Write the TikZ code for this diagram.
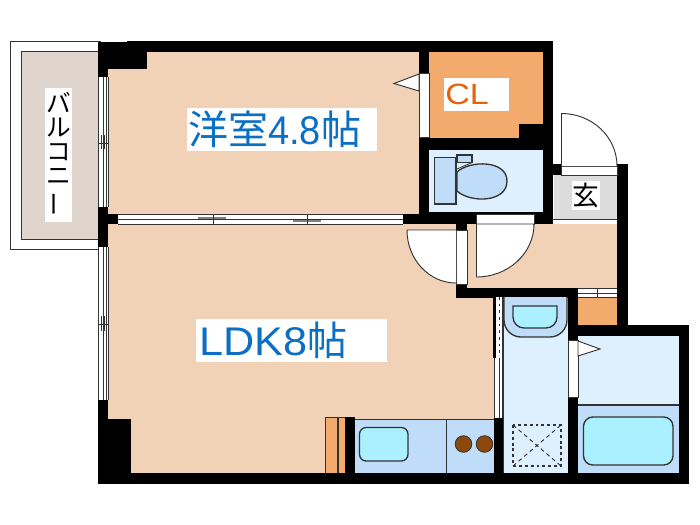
\documentclass[tikz,border=0pt]{standalone}
\usepackage{fontspec}
\setmainfont{Liberation Sans}
\newfontfamily\cjk{Noto Sans CJK JP}
\definecolor{roomc}{HTML}{F2D2B6}
\definecolor{orangec}{HTML}{F2AB6D}
\definecolor{balc}{HTML}{DFD5CC}
\definecolor{palec}{HTML}{DEF0FE}
\definecolor{midc}{HTML}{BFDDF9}
\definecolor{cyanc}{HTML}{AAF0FF}
\definecolor{greyc}{HTML}{DCDCDC}
\definecolor{brownc}{HTML}{8B4A0C}
\definecolor{bluetext}{HTML}{0B6FC5}
\definecolor{orangetext}{HTML}{E8610A}
\definecolor{linec}{HTML}{333333}
\tikzset{
  wall/.style={fill=black},
  thin line/.style={draw=linec,line width=0.6pt},
  fixture/.style={draw=linec,line width=1pt},
  win/.style={fill=white},
  winline/.style={draw=linec,line width=0.5pt},
  winshade/.style={draw=gray,line width=0.8pt},
  doorleaf/.style={fill=white,draw=linec,line width=0.7pt},
  labelbox/.style={fill=white,inner sep=0pt,outer sep=0pt},
}
\begin{document}
\begin{tikzpicture}[x=0.75pt,y=-0.75pt]
\useasboundingbox (0,0) rectangle (700,525);
% balcony
\draw[draw=linec,line width=0.7pt,fill=white] (10.5,41) rectangle (100,249);
\fill[balc] (21,51) rectangle (98,239);
\draw[draw=linec,line width=0.7pt] (98,51) -- (21,51) -- (21,239) -- (98,239);
% floors
\fill[roomc] (108,52) rectangle (420,215);
\fill[roomc] (108,223) rectangle (457,473);
\fill[roomc] (457,290) rectangle (494,473);
\fill[roomc] (467,224) rectangle (617,289);
\draw[thin line] (553,219) -- (617,219);
\fill[greyc] (554,175) rectangle (617,219);
\fill[orangec] (429,52) rectangle (543,138);
\fill[palec] (429,150) rectangle (543,212);
\fill[palec] (504,297) rectangle (568,473);
\fill[palec] (578,336) rectangle (679,405);
\fill[midc] (578,405) rectangle (679,473);
\fill[orangec] (578,298) rectangle (617,325);
\fill[midc] (355,419) rectangle (494,473);
\fill[orangec] (325,417) rectangle (345,473);
\draw[linec,line width=0.5pt] (325,473) -- (325,417) -- (345,417);
\fill[roomc!60!white] (337,417) rectangle (338.5,473);
\draw[linec,line width=0.3pt] (337,417) -- (337,473) (338.5,417) -- (338.5,473);
% walls
\fill[wall] (98,42) rectangle (127,69);
\fill[wall] (127,41) rectangle (553,52);
\fill[wall] (127,52) rectangle (147,69);
\fill[wall] (98,69) rectangle (108,77);
\fill[wall] (98,207) rectangle (108,247);
\fill[wall] (108,214) rectangle (118,224);
\fill[wall] (98,400) rectangle (108,484);
\fill[wall] (108,419) rectangle (131,473);
\fill[wall] (98,473) rectangle (689,484);
\fill[wall] (419,41) rectangle (429,214);
\fill[wall] (519,124) rectangle (543,138);
\fill[wall] (429,138) rectangle (553,150);
\fill[wall] (543,41) rectangle (553,224);
\fill[wall] (429,212) rectangle (553,214);
\fill[wall] (403,214) rectangle (476,224);
\fill[wall] (534,214) rectangle (553,224);
\fill[wall] (456,224) rectangle (467,230);
\fill[wall] (456,284) rectangle (467,298);
\fill[wall] (456,288) rectangle (578,298);
\fill[wall] (553,164) rectangle (561,175);
\fill[wall] (617,164) rectangle (628,336);
\fill[wall] (568,288) rectangle (578,340);
\fill[wall] (568,397) rectangle (578,484);
\fill[wall] (568,325) rectangle (689,336);
\fill[wall] (679,325) rectangle (689,484);
\fill[wall] (494,418) rectangle (504,473);
\fill[wall] (345,417) rectangle (355,473);
\fill[wall] (493,297) rectangle (495.5,358);
% left windows
\fill[win] (98,77) rectangle (108,207);
\fill[win] (98,247) rectangle (108,400);
\foreach \xx in {98.5,103.5,106,108}{
  \draw[winline] (\xx,77) -- (\xx,207);
  \draw[winline] (\xx,247) -- (\xx,400);
}
\draw[winline] (98,143) -- (108,143) (101,135) -- (101,149) (104.5,135) -- (104.5,149);
\draw[winline] (98,324) -- (108,324) (101,316) -- (101,331) (104.5,316) -- (104.5,331);
% horizontal window
\fill[win] (118,214) rectangle (403,224);
\draw[winline] (118,214.5) -- (403,214.5) (118,224) -- (403,224) (118,219.2) -- (403,219.2);
\draw[winshade] (198,218) -- (226,218) (293,221) -- (321,221);
\draw[winline] (213,214) -- (213,224) (307,214) -- (307,224);
% cl door opening
\fill[win] (419,73) rectangle (429,137);
\draw[winline] (419,73) rectangle (429,137);
\draw[doorleaf] (419,74) -- (394,83.5) -- (419,91) -- cycle;
% toilet
\draw[fixture,fill=midc] (434.5,157.5) rectangle (456,204);
\draw[fixture,fill=midc] (457,155) rectangle (472,162.5);
\draw[fixture,fill=midc] (457,172) .. controls (470,160) and (507,160) .. (507,181) .. controls (507,203) and (470,203) .. (457,191) -- cycle;
\draw[thin line] (457,169) -- (472,162.5);
% entrance door
\fill[win] (561,166) rectangle (617,175);
\draw[winline] (561,166) rectangle (617,175);
\draw[doorleaf] (561.5,166) -- (561.5,113.5) arc[start angle=90,end angle=0,x radius=55.5,y radius=-52.5];
\draw[winline] (561,175) -- (617,175);
% LDK door
\fill[win] (456,230) rectangle (467,284);
\draw[winline] (456,230) rectangle (467,284);
\draw[doorleaf] (456,283) arc[start angle=270,end angle=180,x radius=49,y radius=-53] -- (456,230);
% hall door
\fill[win] (476,214) rectangle (534,224);
\draw[winline] (476,214) rectangle (534,224);
\draw[doorleaf] (476.5,224) -- (476.5,277) arc[start angle=270,end angle=360,x radius=57.5,y radius=-53] -- cycle;
% small window
\fill[win] (578,288) rectangle (617,298);
\draw[winline] (578,288.5) -- (617,288.5) (578,293) -- (617,293) (578,297.5) -- (617,297.5) (597,288) -- (597,298);
% wash room door
\fill[win] (495.5,297) rectangle (503,358);
\draw[draw=linec,line width=1.2pt,dash pattern=on 2pt off 3pt] (499.5,297) -- (499.5,356);
\draw[winline] (502,297) -- (502,418);
\fill[win] (494,358) rectangle (501.5,418);
\draw[winline] (494,358) -- (494,418) (499.5,358) -- (499.5,418);
\draw[winline] (503.7,297) -- (503.7,473);
% basin
\draw[fixture,fill=midc] (504,297) -- (504,320) arc[start angle=180,end angle=90,radius=17] -- (550,337) arc[start angle=90,end angle=0,radius=17] -- (567,297);
\draw[fixture,fill=cyanc] (513,306) -- (557,306) -- (557,317) arc[start angle=0,end angle=90,radius=11] -- (524,328) arc[start angle=90,end angle=180,radius=11] -- cycle;
% floor drain
\draw[draw=linec,line width=1pt,dash pattern=on 2.2pt off 2.2pt] (513,425) rectangle (561,466);
\draw[draw=linec,line width=0.7pt,dash pattern=on 3pt off 2.5pt] (513,425) -- (561,466) (513,466) -- (561,425);
% kitchen
\draw[thin line] (446,419) -- (446,473);
\draw[thin line] (355,419) -- (494,419);
\draw[fixture,fill=cyanc,rounded corners=5pt] (359.5,427.5) rectangle (408,461);
\draw[thin line,fill=brownc] (463.5,444) circle (8.3);
\draw[thin line,fill=brownc] (484.5,444) circle (8.3);
% bath
\draw[fixture] (578,405) -- (679,405);
\draw[fixture,fill=cyanc,rounded corners=7pt] (583.5,417) rectangle (673,465);
\fill[win] (568,340) rectangle (578,397);
\draw[winline] (568,340) rectangle (578,397);
\draw[doorleaf] (578,341) -- (600,349) -- (578,356) -- cycle;
% labels
\node[labelbox,minimum width=190pt*0.75,minimum height=43pt*0.75] (roomA) at (282,129.5) {};
\node[anchor=west,text=bluetext,inner sep=0pt,font=\fontsize{30pt}{32pt}\selectfont] (roomAt) at (188,129.5) {{\cjk 洋室}\scalebox{0.95}[1]{4.8}{\cjk 帖}};
\node[labelbox,minimum width=191pt*0.75,minimum height=43pt*0.75] (roomB) at (291.5,340.5) {};
\node[anchor=west,text=bluetext,inner sep=0pt,font=\fontsize{30pt}{32pt}\selectfont] (roomBt) at (199,340.5) {\scalebox{1.08}[1]{LDK8}{\cjk 帖}};
\node[labelbox,minimum width=65pt*0.75,minimum height=33pt*0.75] (cl) at (476.5,94.5) {};
\node[anchor=west,text=orangetext,inner sep=0pt,font=\fontsize{22pt}{24pt}\selectfont] (clt) at (445,94.5) {\scalebox{1.16}[1]{CL}};
\node[labelbox,minimum width=28pt*0.75,minimum height=29pt*0.75] (gen) at (586,195) {};
\node[text=black,inner sep=0pt,font=\cjk\fontsize{20pt}{22pt}\selectfont] (gent) at (586,195) {玄};
\node[labelbox,minimum width=27pt*0.75,minimum height=134pt*0.75] (bal) at (58.5,155) {};
\node[text=black,inner sep=0pt,align=center,font=\cjk\fontsize{18.5pt}{18pt}\selectfont] (balt) at (58.5,154.5) {バ\\ル\\コ\\ニ\\[5pt]\rotatebox{90}{ー}};
\end{tikzpicture}
\end{document}
